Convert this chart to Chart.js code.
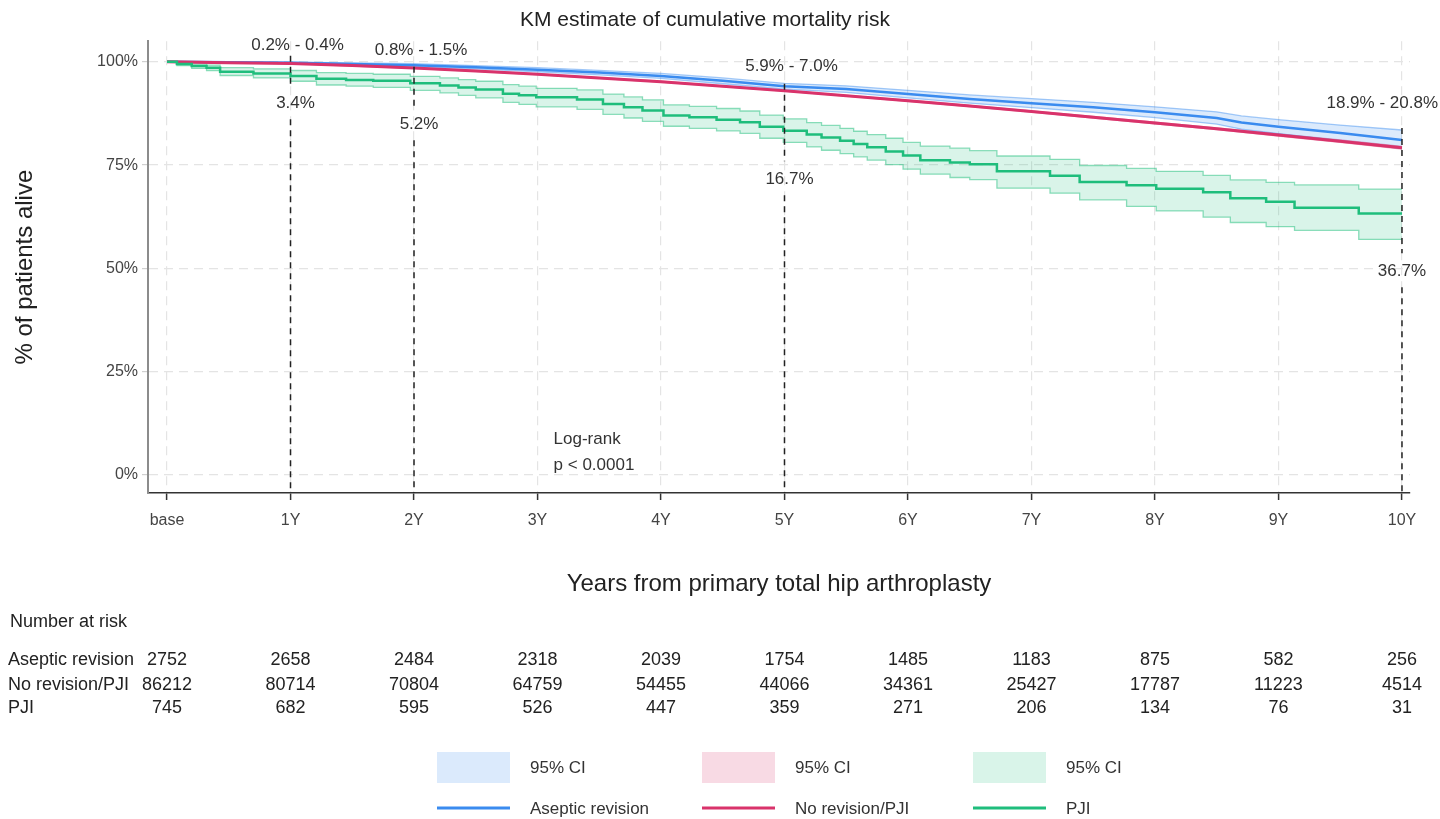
<!DOCTYPE html>
<html>
<head>
<meta charset="utf-8">
<script src="https://cdn.jsdelivr.net/npm/chart.js@4/dist/chart.umd.min.js"></script>
<style>
  html, body { margin: 0; padding: 0; background: #fff; }
  #wrap { position: relative; width: 1440px; height: 819px; }
</style>
</head>
<body>
<div id="wrap"><canvas id="km"></canvas></div>
<script>
// --- Axis ticks ---
const xTicks = [0, 1, 2, 3, 4, 5, 6, 7, 8, 9, 10];
const xTickLabels = ['base', '1Y', '2Y', '3Y', '4Y', '5Y', '6Y', '7Y', '8Y', '9Y', '10Y'];
const yTicks = [0, 25, 50, 75, 100];

// --- Series names ---
const seriesNames = ['Aseptic revision', 'No revision/PJI', 'PJI'];

// --- Aseptic revision (years, % alive) ---
const asepticT  = [0, 0.5, 1, 1.5, 2, 2.5, 3, 3.5, 4, 4.5, 5, 5.5, 6, 6.5, 7, 7.5, 8, 8.5, 8.7, 9, 9.5, 10];
const asepticS  = [100, 99.9, 99.8, 99.5, 99.2, 98.7, 98.1, 97.4, 96.6, 95.4, 94.1, 93.4, 92.2, 91.0, 90.0, 89.0, 87.8, 86.4, 85.3, 84.3, 82.8, 81.1];
const asepticHi = [100, 100, 99.95, 99.75, 99.55, 99.1, 98.6, 97.95, 97.2, 96.1, 94.8, 94.2, 93.1, 92.0, 91.1, 90.2, 89.1, 87.9, 86.9, 86.0, 84.7, 83.5];
const asepticLo = [100, 99.8, 99.6, 99.25, 98.85, 98.3, 97.6, 96.85, 96.0, 94.7, 93.4, 92.6, 91.3, 90.0, 88.9, 87.8, 86.5, 84.9, 83.7, 82.6, 80.9, 79.0];

// --- No revision/PJI ---
const noRevT  = [0, 0.5, 1, 1.5, 2, 2.5, 3, 3.5, 4, 4.5, 5, 5.5, 6, 6.5, 7, 7.5, 8, 8.5, 9, 9.5, 10];
const noRevS  = [100, 99.8, 99.6, 99.1, 98.5, 97.8, 97.0, 96.1, 95.2, 94.1, 93.0, 91.8, 90.6, 89.3, 88.0, 86.6, 85.2, 83.8, 82.3, 80.8, 79.2];
const noRevHi = [100, 99.85, 99.65, 99.2, 98.6, 97.9, 97.1, 96.2, 95.3, 94.2, 93.1, 91.9, 90.75, 89.45, 88.15, 86.8, 85.4, 84.0, 82.55, 81.1, 79.55];
const noRevLo = [100, 99.75, 99.55, 99.0, 98.4, 97.7, 96.9, 96.0, 95.1, 94.0, 92.9, 91.7, 90.45, 89.15, 87.85, 86.4, 85.0, 83.6, 82.05, 80.5, 78.85];

// --- PJI (step curve) ---
const pjiT  = [0, 0.08, 0.2, 0.32, 0.43, 0.7, 1.0, 1.21, 1.45, 1.67, 1.97, 2.21, 2.36, 2.5, 2.72, 2.85, 2.99, 3.32, 3.53, 3.7, 3.85, 4.02, 4.23, 4.45, 4.64, 4.8, 4.99, 5.18, 5.3, 5.45, 5.56, 5.67, 5.82, 5.96, 6.1, 6.34, 6.5, 6.72, 7.15, 7.39, 7.77, 8.01, 8.39, 8.61, 8.9, 9.13, 9.65, 10];
const pjiS  = [100, 99.5, 99.0, 98.6, 97.6, 97.2, 96.6, 95.9, 95.6, 95.4, 94.8, 94.3, 93.8, 93.3, 92.3, 91.9, 91.4, 90.9, 89.8, 89.0, 88.2, 87.0, 86.6, 86.0, 85.4, 84.3, 83.3, 82.4, 81.7, 80.9, 80.1, 79.3, 78.3, 77.3, 76.2, 75.6, 75.2, 73.5, 72.4, 70.9, 70.1, 69.3, 68.4, 67.0, 66.1, 64.7, 63.3, 63.3];
const pjiHi = [100, 99.8, 99.5, 99.2, 98.6, 98.3, 97.9, 97.4, 97.2, 97.0, 96.5, 96.1, 95.7, 95.3, 94.5, 94.1, 93.6, 93.2, 92.2, 91.5, 90.8, 89.6, 89.2, 88.7, 88.1, 87.1, 86.2, 85.3, 84.6, 83.9, 83.2, 82.4, 81.5, 80.5, 79.6, 79.1, 78.5, 77.2, 76.4, 74.9, 74.2, 73.5, 72.5, 71.4, 70.8, 70.2, 69.2, 69.2];
const pjiLo = [100, 99.1, 98.4, 97.9, 96.7, 96.1, 95.3, 94.4, 94.1, 93.8, 93.1, 92.5, 91.9, 91.3, 90.2, 89.7, 89.1, 88.5, 87.3, 86.4, 85.6, 84.4, 83.9, 83.3, 82.7, 81.5, 80.5, 79.4, 78.6, 77.8, 77.0, 76.2, 75.1, 74.0, 72.8, 72.0, 71.5, 69.4, 68.2, 66.6, 65.0, 63.9, 62.4, 61.1, 60.1, 59.2, 57.0, 57.0];

// --- Marked time points ---
const markYears = [1, 2, 5, 10];
const markUpper = ['0.2% - 0.4%', '0.8% - 1.5%', '5.9% - 7.0%', '18.9% - 20.8%'];
const markLower = ['3.4%', '5.2%', '16.7%', '36.7%'];

// --- Number at risk ---
const riskAseptic = [2752, 2658, 2484, 2318, 2039, 1754, 1485, 1183, 875, 582, 256];
const riskNoRev   = [86212, 80714, 70804, 64759, 54455, 44066, 34361, 25427, 17787, 11223, 4514];
const riskPJI     = [745, 682, 595, 526, 447, 359, 271, 206, 134, 76, 31];

// --- Colours ---
const colors = {
    blue: '#3a8bef', blueBand: 'rgba(58,139,239,0.18)', blueEdge: 'rgba(58,139,239,0.45)',
    red: '#d9336b', redBand: 'rgba(217,51,107,0.18)', redEdge: 'rgba(217,51,107,0.45)',
    green: '#1fbd7c', greenBand: 'rgba(31,189,124,0.17)', greenEdge: 'rgba(31,189,124,0.5)'
};

const FONT = 'Liberation Sans, Arial, sans-serif';

function pts(t, v) { return t.map((x, i) => ({ x: x, y: v[i] })); }

function band(t, v, edge, fill, stepped) {
    return {
        data: pts(t, v), borderColor: edge, borderWidth: 1.3, backgroundColor: fill,
        pointRadius: 0, stepped: stepped, order: 10
    };
}

const datasets = [
    Object.assign(band(asepticT, asepticHi, colors.blueEdge, colors.blueBand, false), { fill: '+1' }),
    Object.assign(band(asepticT, asepticLo, colors.blueEdge, colors.blueBand, false), { fill: false }),
    Object.assign(band(noRevT, noRevHi, colors.redEdge, colors.redBand, false), { fill: '+1' }),
    Object.assign(band(noRevT, noRevLo, colors.redEdge, colors.redBand, false), { fill: false }),
    Object.assign(band(pjiT, pjiHi, colors.greenEdge, colors.greenBand, true), { fill: '+1' }),
    Object.assign(band(pjiT, pjiLo, colors.greenEdge, colors.greenBand, true), { fill: false }),
    { label: seriesNames[0], data: pts(asepticT, asepticS), borderColor: colors.blue, borderWidth: 2.5, pointRadius: 0, fill: false, order: 3 },
    { label: seriesNames[1], data: pts(noRevT, noRevS), borderColor: colors.red, borderWidth: 3, pointRadius: 0, fill: false, order: 2 },
    { label: seriesNames[2], data: pts(pjiT, pjiS), borderColor: colors.green, borderWidth: 2.5, pointRadius: 0, fill: false, stepped: true, order: 1 }
];

// --- Overlay: dashed markers, log-rank, risk table, legend ---
const overlay = {
    id: 'overlay',
    afterDatasetsDraw(chart, args, opts) {
        const { ctx, chartArea } = chart;
        const x = chart.scales.x, y = chart.scales.y;
        ctx.save();
        ctx.font = '17px ' + FONT;
        ctx.fillStyle = '#333';
        ctx.textBaseline = 'middle';
        markYears.forEach((yr, i) => {
            const px = x.getPixelForValue(yr);
            const top = y.getPixelForValue(opts.lineTop[i]);
            const ly = y.getPixelForValue(opts.lowerAt[i]);
            ctx.strokeStyle = '#222';
            ctx.lineWidth = 1.5;
            ctx.setLineDash([6, 5]);
            ctx.beginPath();
            ctx.moveTo(px, top); ctx.lineTo(px, ly - 18);
            ctx.moveTo(px, ly + 16); ctx.lineTo(px, chartArea.bottom);
            ctx.stroke();
            ctx.setLineDash([]);
            // upper label, kept inside the canvas
            const uw = ctx.measureText(markUpper[i]).width;
            let ux = px + 7;
            if (ux + uw / 2 > chart.width - 2) ux = chart.width - 2 - uw / 2;
            ctx.textAlign = 'center';
            ctx.fillText(markUpper[i], ux, y.getPixelForValue(opts.upperAt[i]));
            ctx.fillText(markLower[i], px + (yr === 10 ? 0 : 5), ly);
        });
        ctx.textAlign = 'left';
        ctx.fillText('Log-rank', x.getPixelForValue(opts.logRank[0]), y.getPixelForValue(opts.logRank[1]));
        ctx.fillText('p < 0.0001', x.getPixelForValue(opts.logRank[0]), y.getPixelForValue(opts.logRank[2]));
        ctx.restore();
    },
    afterDraw(chart) {
        const { ctx } = chart;
        const x = chart.scales.x;
        ctx.save();
        ctx.fillStyle = '#222';
        ctx.textBaseline = 'middle';
        ctx.font = '18px ' + FONT;
        ctx.textAlign = 'left';
        ctx.fillText('Number at risk', 10, 622);
        const rows = [riskAseptic, riskNoRev, riskPJI];
        const rowY = [660, 685, 708];
        rows.forEach((row, r) => {
            ctx.textAlign = 'left';
            ctx.fillText(seriesNames[r], 8, rowY[r]);
            ctx.textAlign = 'center';
            row.forEach((n, i) => ctx.fillText(String(n), x.getPixelForValue(xTicks[i]), rowY[r]));
        });

        // legend
        const bands = [colors.blueBand, colors.redBand, colors.greenBand];
        const lines = [colors.blue, colors.red, colors.green];
        const colX = [437, 702, 973];
        ctx.font = '17px ' + FONT;
        ctx.textAlign = 'left';
        for (let i = 0; i < 3; i++) {
            const lx = colX[i];
            ctx.fillStyle = bands[i];
            ctx.fillRect(lx, 752, 73, 31);
            ctx.strokeStyle = lines[i];
            ctx.lineWidth = 3;
            ctx.beginPath(); ctx.moveTo(lx, 808); ctx.lineTo(lx + 73, 808); ctx.stroke();
            ctx.fillStyle = '#333';
            ctx.fillText('95% CI', lx + 93, 768);
            ctx.fillText(seriesNames[i], lx + 93, 809);
        }
        ctx.restore();
    }
};

Chart.defaults.font.family = FONT;
Chart.defaults.color = '#444';

new Chart(document.getElementById('km'), {
    type: 'line',
    data: { datasets: datasets },
    plugins: [overlay],
    options: {
        responsive: true,
        maintainAspectRatio: false,
        animation: false,
        layout: { padding: { top: 0, right: 30, bottom: 220, left: 0 } },
        plugins: {
            legend: { display: false },
            tooltip: { enabled: false },
            title: {
                display: true,
                text: 'KM estimate of cumulative mortality risk',
                color: '#222',
                font: { size: 21, weight: 'normal' },
                padding: { top: 8, bottom: 8 }
            },
            overlay: {
                lineTop: [101.5, 98.8, 94.7, 84.0],
                upperAt: [104.1, 102.7, 99.0, 90.0],
                lowerAt: [90.0, 84.9, 71.6, 49.3],
                logRank: [3.13, 8.5, 2.2]
            }
        },
        scales: {
            x: {
                type: 'linear',
                min: -0.154,
                max: 10.065,
                afterBuildTicks: s => { s.ticks = xTicks.map(v => ({ value: v })); },
                afterFit: s => { s.height = 106; },
                ticks: {
                    autoSkip: false,
                    maxRotation: 0,
                    color: '#444',
                    font: { size: 16 },
                    padding: 11,
                    callback: (v) => xTickLabels[xTicks.indexOf(v)]
                },
                grid: { color: '#e4e4e4', lineWidth: 1.2, tickColor: '#333', tickLength: 7, tickWidth: 1.5 },
                border: { color: '#333', width: 1.5, dash: [9, 6] },
                title: {
                    display: true,
                    text: 'Years from primary total hip arthroplasty',
                    color: '#222',
                    font: { size: 24 },
                    padding: { top: 0, bottom: 0 }
                }
            },
            y: {
                min: -4.4,
                max: 105,
                afterBuildTicks: s => { s.ticks = yTicks.map(v => ({ value: v })); },
                afterFit: s => { s.width = 148; },
                ticks: {
                    color: '#444',
                    font: { size: 16 },
                    padding: 4,
                    callback: v => v + '%'
                },
                grid: { color: '#e4e4e4', lineWidth: 1.2, tickColor: '#d0d0d0', tickLength: 6 },
                border: { color: '#8c8c8c', width: 2, dash: [9, 6] },
                title: {
                    display: true,
                    text: '% of patients alive',
                    color: '#222',
                    font: { size: 24 },
                    padding: { top: 11, bottom: 0 }
                }
            }
        }
    }
});
</script>
</body>
</html>
